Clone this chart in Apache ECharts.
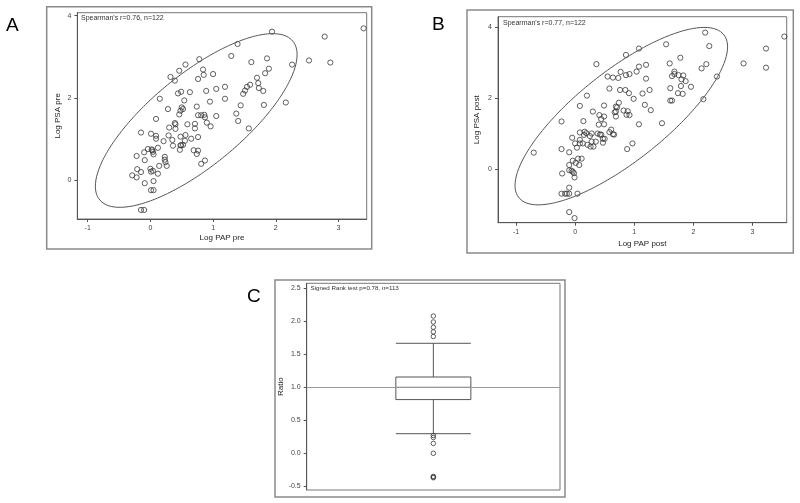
<!DOCTYPE html>
<html><head><meta charset="utf-8">
<script src="https://cdn.jsdelivr.net/npm/echarts@6/dist/echarts.min.js"></script>
<style>html,body{margin:0;padding:0;background:#fff}#c{width:800px;height:503px}</style>
</head><body><div id="c"></div>
<script>
// Panel A: Log PAP pre (x) vs Log PSA pre (y)
const pointsPre = [[3.40,3.69],[1.94,3.61],[2.78,3.49],[1.39,3.31],[1.29,3.02],[0.78,2.94],[0.56,2.81],[1.61,2.87],[1.86,2.96],[2.53,2.91],[2.87,2.86],[2.26,2.81],[0.46,2.66],[0.84,2.69],[0.32,2.51],[0.39,2.42],[0.76,2.46],[0.85,2.56],[1.00,2.58],[1.89,2.71],[1.83,2.60],[1.70,2.49],[1.72,2.36],[1.73,2.24],[1.80,2.17],[1.59,2.32],[1.54,2.27],[1.51,2.18],[1.48,2.10],[1.19,2.27],[1.05,2.22],[0.89,2.17],[0.63,2.14],[0.49,2.15],[0.44,2.11],[0.15,1.98],[0.54,1.94],[0.95,1.91],[1.19,1.98],[1.44,1.82],[1.81,1.83],[2.16,1.89],[0.28,1.73],[0.50,1.77],[0.52,1.73],[0.48,1.69],[0.74,1.79],[0.46,1.60],[0.76,1.58],[0.81,1.58],[0.86,1.59],[0.87,1.53],[1.05,1.56],[1.37,1.62],[1.40,1.44],[0.09,1.49],[0.39,1.39],[0.40,1.36],[0.59,1.36],[0.71,1.37],[0.71,1.26],[0.90,1.40],[0.96,1.31],[0.30,1.28],[0.40,1.25],[1.57,1.26],[-0.15,1.16],[0.01,1.13],[0.09,1.08],[0.09,1.01],[0.29,1.09],[0.48,1.06],[0.56,1.10],[0.76,1.05],[0.65,1.01],[0.21,0.95],[0.35,0.98],[0.36,0.84],[0.48,0.85],[0.49,0.85],[0.47,0.74],[0.55,0.96],[0.69,0.73],[0.76,0.72],[0.74,0.64],[0.12,0.79],[-0.04,0.76],[0.03,0.73],[0.04,0.69],[0.05,0.63],[-0.10,0.68],[-0.22,0.59],[-0.09,0.49],[0.23,0.57],[0.23,0.50],[0.24,0.44],[0.26,0.35],[0.14,0.35],[0.81,0.40],[0.87,0.48],[-0.21,0.27],[-0.15,0.20],[-0.29,0.12],[-0.22,0.07],[0.00,0.28],[0.01,0.21],[0.04,0.23],[0.12,0.16],[-0.09,-0.07],[0.05,-0.02],[0.01,-0.24],[0.05,-0.24],[-0.15,-0.72],[-0.10,-0.72],[0.02,0.75],[0.52,0.86]];
// Panel B: Log PAP post (x) vs Log PSA post (y)
const pointsPost = [[3.54,3.74],[2.20,3.85],[2.27,3.47],[1.54,3.52],[1.08,3.40],[0.86,3.22],[0.36,2.96],[1.60,2.98],[1.78,3.14],[2.22,2.96],[2.14,2.84],[2.85,2.98],[3.23,3.40],[3.23,2.86],[2.40,2.61],[1.04,2.75],[1.08,2.89],[1.20,2.94],[0.55,2.61],[0.64,2.58],[0.73,2.57],[0.77,2.74],[0.86,2.65],[0.92,2.68],[0.58,2.27],[0.76,2.23],[0.85,2.23],[0.91,2.14],[1.20,2.55],[1.26,2.23],[1.14,2.13],[0.99,1.98],[0.20,2.07],[1.18,1.81],[1.28,1.66],[1.68,2.75],[1.68,2.68],[1.64,2.62],[1.75,2.65],[1.83,2.64],[1.80,2.53],[1.87,2.48],[1.96,2.32],[1.61,2.28],[1.79,2.34],[1.74,2.14],[1.82,2.12],[1.61,1.93],[1.64,1.93],[2.17,1.97],[0.08,1.78],[0.49,1.79],[0.74,1.87],[0.69,1.76],[0.71,1.74],[0.82,1.65],[0.89,1.63],[0.92,1.52],[0.87,1.53],[0.67,1.60],[0.69,1.62],[0.69,1.48],[-0.23,1.34],[0.14,1.35],[0.30,1.62],[0.41,1.52],[0.44,1.41],[0.49,1.48],[0.49,1.26],[0.40,1.25],[1.08,1.26],[1.47,1.29],[0.08,1.03],[0.16,1.05],[0.19,1.01],[0.15,0.96],[0.25,0.93],[0.28,1.00],[0.38,1.00],[0.42,0.97],[0.44,0.97],[0.61,1.11],[0.58,1.04],[0.64,0.98],[0.66,0.97],[-0.05,0.88],[0.08,0.82],[0.08,0.72],[0.13,0.72],[0.28,0.77],[0.35,0.77],[0.21,0.68],[0.26,0.63],[0.31,0.63],[0.47,0.85],[0.50,0.85],[0.47,0.74],[0.00,0.72],[0.03,0.60],[-0.10,0.47],[-0.70,0.46],[-0.23,0.56],[0.97,0.72],[0.88,0.56],[-0.04,0.23],[0.01,0.17],[0.05,0.29],[0.11,0.29],[0.07,0.11],[-0.10,0.11],[-0.06,-0.05],[-0.04,-0.08],[-0.10,-0.04],[-0.02,-0.12],[-0.01,-0.24],[-0.22,-0.13],[-0.10,-0.53],[-0.23,-0.70],[-0.17,-0.70],[-0.14,-0.70],[-0.10,-0.70],[0.04,-0.70],[-0.10,-1.22],[-0.01,-1.39]];
// Panel C: ratio box plot [min whisker, Q1, median, Q3, max whisker]
const ratioBox = [0.297, 0.814, 1.0, 1.156, 1.667];
const ratioOutliers = [2.08, 1.99, 1.91, 1.84, 1.77, 0.27, 0.24, 0.15, 0.0, -0.35, -0.36, -0.37];
const ratioRef = 1.0;
const ticksPAP = [-1, 0, 1, 2, 3];
const ticksPSA = [0, 2, 4];
const ticksRatio = [-0.5, 0, 0.5, 1, 1.5, 2, 2.5];
const ratioCategory = ['Ratio'];

// 90% prediction ellipse computed from the data
function predictionEllipse(pts) {
  const n = pts.length;
  let mx = 0, my = 0;
  pts.forEach(p => { mx += p[0]; my += p[1]; });
  mx /= n; my /= n;
  let sxx = 0, syy = 0, sxy = 0;
  pts.forEach(p => { const dx = p[0] - mx, dy = p[1] - my; sxx += dx * dx; syy += dy * dy; sxy += dx * dy; });
  sxx /= (n - 1); syy /= (n - 1); sxy /= (n - 1);
  const F = 2.35; // F(2, n-2) quantile, 0.90
  const c = 2 * (n - 1) * (n + 1) / (n * (n - 2)) * F;
  const k = Math.sqrt(c);
  const l11 = Math.sqrt(sxx), l21 = sxy / l11, l22 = Math.sqrt(syy - l21 * l21);
  const out = [];
  for (let i = 0; i <= 240; i++) {
    const t = 2 * Math.PI * i / 240;
    out.push([mx + k * l11 * Math.cos(t), my + k * (l21 * Math.cos(t) + l22 * Math.sin(t))]);
  }
  return out;
}

const FONT = 'Liberation Sans';
const AX = '#555';
function valAxis(gridIndex, min, max, ticks, fmt, name, nameGap) {
  return {
    type: 'value', gridIndex, min, max,
    splitLine: { show: false },
    axisLine: { show: true, onZero: false, lineStyle: { color: AX, width: 1 } },
    axisTick: { show: true, length: 3, customValues: ticks, lineStyle: { color: AX } },
    axisLabel: { customValues: ticks, fontSize: 7, color: '#444', fontFamily: FONT, margin: 6, formatter: fmt },
    name: name, nameLocation: 'middle', nameGap: nameGap,
    nameTextStyle: { fontSize: 8, color: '#222', fontFamily: FONT }
  };
}
const intFmt = v => String(Math.round(v));
const decFmt = v => v.toFixed(1);

const gridStyle = { show: true, borderColor: '#777', borderWidth: 1, backgroundColor: 'transparent', containLabel: false };
const scatterStyle = { color: 'transparent', borderColor: '#3a3a3a', borderWidth: 1 };

const chart = echarts.init(document.getElementById('c'), null, { renderer: 'canvas' });
chart.setOption({
  animation: false,
  backgroundColor: '#fff',
  grid: [
    Object.assign({ left: 77.3, top: 12.7, width: 289.4, height: 206.3 }, gridStyle),
    Object.assign({ left: 498, top: 16.7, width: 288.7, height: 206 }, gridStyle),
    Object.assign({ left: 306.7, top: 283.3, width: 253.3, height: 206.7 }, gridStyle)
  ],
  xAxis: [
    valAxis(0, -1.166, 3.45, ticksPAP, intFmt, 'Log PAP pre', 15),
    valAxis(1, -1.305, 3.58, ticksPAP, intFmt, 'Log PAP post', 17),
    { type: 'category', gridIndex: 2, data: ratioCategory, axisLine: { show: false }, axisTick: { show: false }, axisLabel: { show: false } }
  ],
  yAxis: [
    valAxis(0, -0.94, 4.07, ticksPSA, intFmt, 'Log PSA pre', 16),
    valAxis(1, -1.52, 4.30, ticksPSA, intFmt, 'Log PSA post', 17),
    valAxis(2, -0.556, 2.576, ticksRatio, decFmt, 'Ratio', 20)
  ],
  series: [
    { type: 'scatter', xAxisIndex: 0, yAxisIndex: 0, data: pointsPre, symbol: 'circle', symbolSize: 5.2, itemStyle: scatterStyle, silent: true },
    { type: 'line', xAxisIndex: 0, yAxisIndex: 0, data: predictionEllipse(pointsPre), showSymbol: false, smooth: false, lineStyle: { color: '#555', width: 1 }, silent: true },
    { type: 'scatter', xAxisIndex: 1, yAxisIndex: 1, data: pointsPost, symbol: 'circle', symbolSize: 5.2, itemStyle: scatterStyle, silent: true },
    { type: 'line', xAxisIndex: 1, yAxisIndex: 1, data: predictionEllipse(pointsPost), showSymbol: false, smooth: false, lineStyle: { color: '#555', width: 1 }, silent: true },
    {
      type: 'boxplot', xAxisIndex: 2, yAxisIndex: 2, data: [ratioBox], boxWidth: [75, 75], silent: true,
      itemStyle: { color: 'transparent', borderColor: '#555', borderWidth: 1 },
      markLine: { symbol: 'none', silent: true, label: { show: false }, lineStyle: { color: '#999', type: 'solid', width: 1 }, data: [{ yAxis: ratioRef }] }
    },
    { type: 'scatter', xAxisIndex: 2, yAxisIndex: 2, data: ratioOutliers.map(v => [0, v]), symbol: 'circle', symbolSize: 4.5, itemStyle: scatterStyle, silent: true }
  ],
  graphic: [
    { type: 'rect', shape: { x: 46.7, y: 6.7, width: 325, height: 242.3 }, style: { fill: 'none', stroke: '#8a8a8a', lineWidth: 1.5 }, silent: true },
    { type: 'rect', shape: { x: 467, y: 10, width: 326.3, height: 243 }, style: { fill: 'none', stroke: '#8a8a8a', lineWidth: 1.5 }, silent: true },
    { type: 'rect', shape: { x: 275, y: 280, width: 290, height: 217 }, style: { fill: 'none', stroke: '#8a8a8a', lineWidth: 1.5 }, silent: true },
    { type: 'text', x: 6, y: 16, style: { text: 'A', font: '19px "Liberation Sans"', fill: '#000' }, silent: true },
    { type: 'text', x: 432, y: 15, style: { text: 'B', font: '19px "Liberation Sans"', fill: '#000' }, silent: true },
    { type: 'text', x: 247, y: 287, style: { text: 'C', font: '19px "Liberation Sans"', fill: '#000' }, silent: true },
    { type: 'text', x: 81, y: 14.5, style: { text: "Spearman's r=0.76, n=122", font: '7px "Liberation Sans"', fill: '#333' }, silent: true },
    { type: 'text', x: 503, y: 19.5, style: { text: "Spearman's r=0.77, n=122", font: '7px "Liberation Sans"', fill: '#333' }, silent: true },
    { type: 'text', x: 310.5, y: 285.5, style: { text: 'Signed Rank test p=0.78, n=113', font: '6.2px "Liberation Sans"', fill: '#333' }, silent: true }
  ]
});
</script>
</body></html>
